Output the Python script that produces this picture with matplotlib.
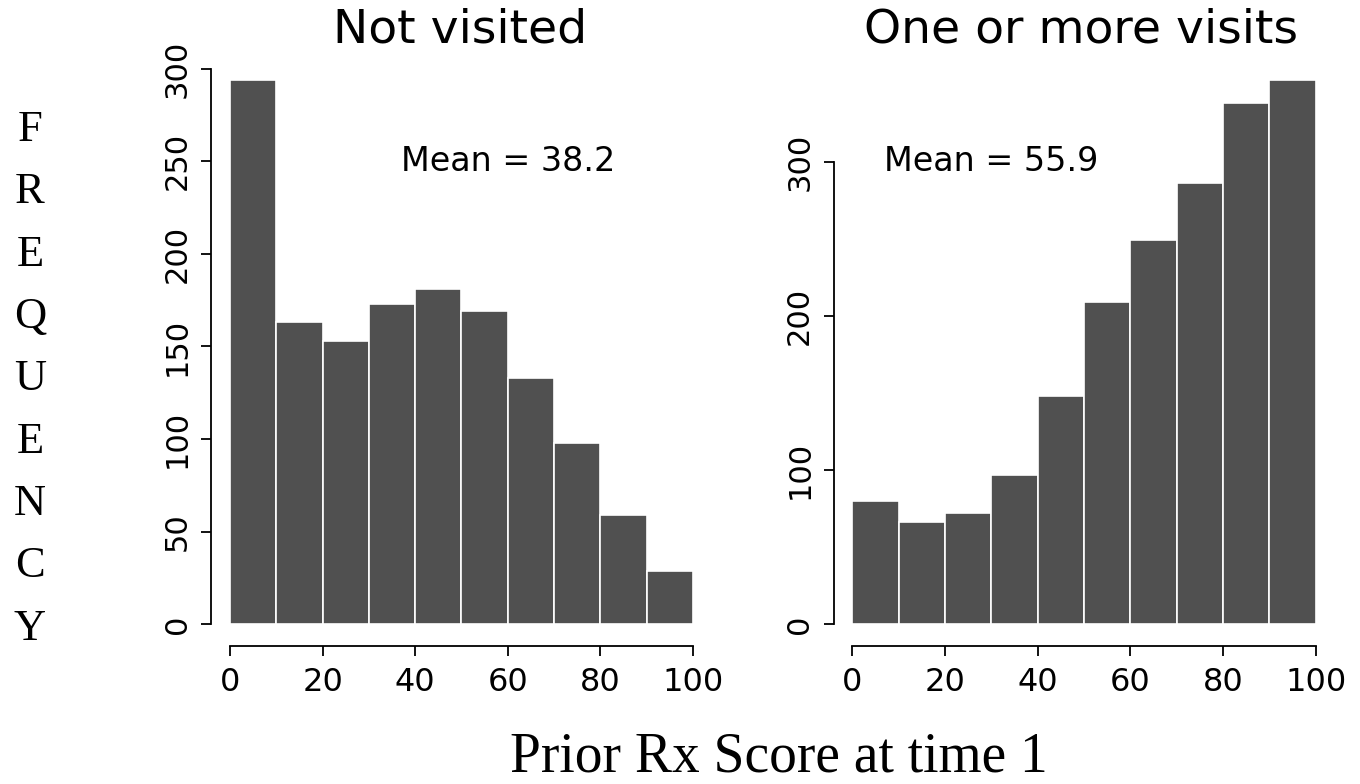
import matplotlib.pyplot as plt

# Histogram counts of prior Rx score at time 1, by visit group
bin_edges = [0, 10, 20, 30, 40, 50, 60, 70, 80, 90, 100]
not_visited = [294, 163, 153, 173, 181, 169, 133, 98, 59, 29]
visited = [80, 66, 72, 97, 148, 209, 249, 286, 338, 353]

titles = ["Not visited", "One or more visits"]
mean_labels = ["Mean = 38.2", "Mean = 55.9"]
mean_pos = [(60, 250), (30, 300)]
y_ticks = [[0, 50, 100, 150, 200, 250, 300], [0, 100, 200, 300]]
x_ticks = [0, 20, 40, 60, 80, 100]

bar_color = "#505050"

fig = plt.figure(figsize=(13.6, 7.84), dpi=100)
ax_left = fig.add_axes([0.1555, 0.176, 0.3676, 0.75])
ax_right = fig.add_axes([0.613, 0.176, 0.3680, 0.75])

for ax, counts, title, label, pos, yt in zip(
        [ax_left, ax_right], [not_visited, visited], titles, mean_labels, mean_pos, y_ticks):
    widths = [b - a for a, b in zip(bin_edges[:-1], bin_edges[1:])]
    ax.bar(bin_edges[:-1], counts, width=widths, align="edge",
           color=bar_color, edgecolor="white", linewidth=1.2)

    # R style axes: 4% padding, spines only over the tick range
    top = max(counts)
    ax.set_ylim(-0.04 * top, 1.04 * top)
    ax.set_xlim(-4, 104)
    for side in ["top", "right"]:
        ax.spines[side].set_visible(False)
    ax.spines["left"].set_bounds(yt[0], yt[-1])
    ax.spines["bottom"].set_bounds(x_ticks[0], x_ticks[-1])
    ax.spines["left"].set_linewidth(1.3)
    ax.spines["bottom"].set_linewidth(1.3)

    ax.set_xticks(x_ticks)
    ax.set_yticks(yt)
    ax.tick_params(axis="both", length=7, width=1.3)
    ax.tick_params(axis="x", pad=8)
    ax.tick_params(axis="y", pad=7)
    for t in ax.get_xticklabels():
        t.set_fontfamily("DejaVu Sans")
        t.set_fontsize(23)
    for t in ax.get_yticklabels():
        t.set_fontfamily(["Liberation Sans Narrow", "DejaVu Sans"])
        t.set_fontsize(22)
        t.set_rotation(90)
        t.set_va("center")

    ax.text(pos[0], pos[1], label, ha="center", va="center",
            fontsize=24, family="DejaVu Sans")

# titles above each panel
fig.text(0.338, 0.962, titles[0], ha="center", va="center", fontsize=34, family="DejaVu Sans")
fig.text(0.795, 0.962, titles[1], ha="center", va="center", fontsize=34, family="DejaVu Sans")

# vertical stacked y label and shared x label in a serif font
fig.text(0.022, 0.516, "\n".join("FREQUENCY"), ha="center", va="center",
         fontsize=32, family="Liberation Serif", linespacing=1.72)
fig.text(0.573, 0.034, "Prior Rx Score at time 1", ha="center", va="center",
         fontsize=40, family="Liberation Serif")

plt.savefig("out.png", dpi=100)
